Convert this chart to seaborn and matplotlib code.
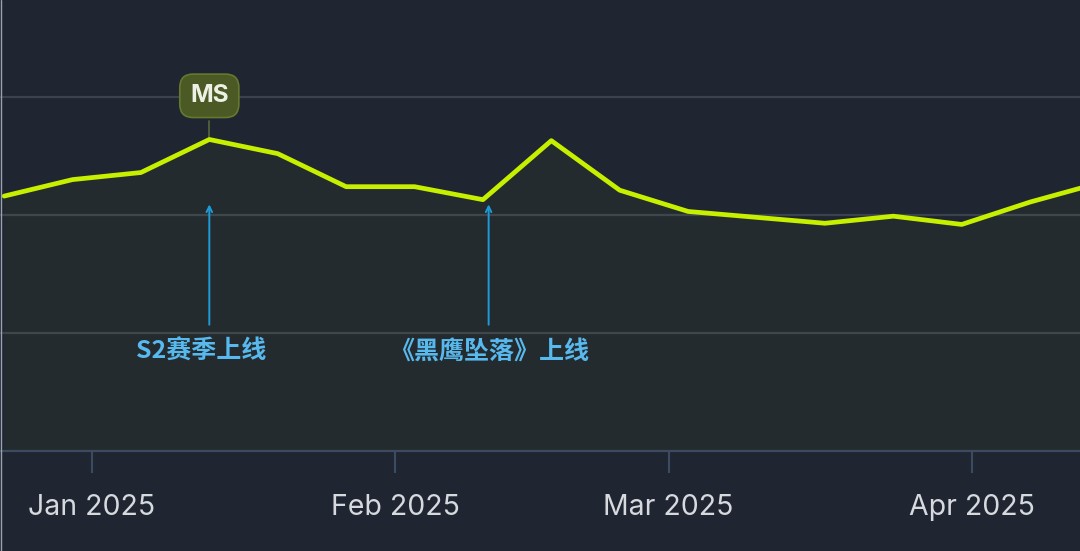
import matplotlib
matplotlib.use("Agg")
import matplotlib.pyplot as plt
import matplotlib.dates as mdates
from matplotlib.lines import Line2D
import seaborn as sns
import pandas as pd
import numpy as np

# weekly series (arbitrary units)
weeks = ["2024-12-23", "2024-12-30", "2025-01-06", "2025-01-13", "2025-01-20",
         "2025-01-27", "2025-02-03", "2025-02-10", "2025-02-17", "2025-02-24",
         "2025-03-03", "2025-03-10", "2025-03-17", "2025-03-24", "2025-03-31",
         "2025-04-07", "2025-04-14"]
values = [216, 230, 236, 264, 252, 224, 224, 213, 263, 221,
          203, 198, 193, 199, 192, 211, 227]

# events
event_dates = ["2025-01-13", "2025-02-10 14:00"]
event_labels = ["S2赛季上线", "《黑鹰坠落》上线"]
badge_date = "2025-01-13"
badge_text = "MS"

tick_dates = ["2025-01-01", "2025-02-01", "2025-03-01", "2025-04-01"]
tick_labels = ["Jan 2025", "Feb 2025", "Mar 2025", "Apr 2025"]

df = pd.DataFrame({"week": pd.to_datetime(weeks), "value": values})

BG = "#1f2531"
LINE = "#c6f000"
GRID = "#3a424e"
BLUE_TXT = "#58b9ee"
BLUE_ARR = "#1b9bd8"

sns.set_theme(style="dark")
plt.rcParams["font.family"] = ["Inter", "Noto Sans CJK SC", "DejaVu Sans"]

fig = plt.figure(figsize=(10.8, 5.51), dpi=100, facecolor=BG)
ax = fig.add_axes([0, 1 - 451 / 551, 1, 451 / 551])
ax.set_facecolor(BG)

sns.lineplot(data=df, x="week", y="value", color=LINE, linewidth=3.4, ax=ax, zorder=4)
ax.fill_between(df["week"], df["value"], 0, color=LINE, alpha=0.03, zorder=2, linewidth=0)

jan1 = mdates.date2num(pd.Timestamp("2025-01-01"))
ax.set_xlim(jan1 - 9.42, jan1 + 101.1)
ax.set_ylim(0, 451 / 1.18)

ax.set_yticks([100, 200, 300])
ax.yaxis.grid(True, color=GRID, linewidth=1.6)
ax.xaxis.grid(False)
ax.tick_params(axis="y", left=False, labelleft=False)

ax.set_xticks(pd.to_datetime(tick_dates))
ax.set_xticklabels(tick_labels)
ax.tick_params(axis="x", bottom=True, length=16, width=1.5, color="#3b4b60",
               labelsize=20.5, labelcolor="#d6d9de", pad=15)
ax.set_xlabel("")
ax.set_ylabel("")
for s in ["top", "right", "left"]:
    ax.spines[s].set_visible(False)
ax.spines["bottom"].set_color("#3b4b60")
ax.spines["bottom"].set_linewidth(1.6)

# MS badge
bx = pd.Timestamp(badge_date)
by = df.loc[df["week"] == bx, "value"].iloc[0]
ax.plot([bx, bx], [by, 280], color="#55623a", linewidth=1.3, zorder=3)
ax.text(bx, 301, badge_text, ha="center", va="center", fontsize=17.5, fontweight="bold",
        color="#eef0e6", zorder=6,
        bbox=dict(boxstyle="round,pad=0.42,rounding_size=0.55", facecolor="#4b5a24",
                  edgecolor="#66782e", linewidth=1.2))

# event arrows
label_shift = [-6, 0]
for d, lab, sh in zip(event_dates, event_labels, label_shift):
    ex = pd.Timestamp(d)
    ax.annotate("", xy=(ex, 209), xytext=(ex, 107),
                arrowprops=dict(arrowstyle="->", color=BLUE_ARR, lw=1.4,
                                mutation_scale=10, shrinkA=0, shrinkB=0), zorder=5)
    ax.annotate(lab, xy=(ex, 84), xytext=(sh, 0), textcoords="offset points",
                ha="center", va="center", fontsize=18, fontweight="bold",
                color=BLUE_TXT, family=["Noto Sans CJK SC", "DejaVu Sans"], zorder=5)

fig.add_artist(Line2D([0.0006, 0.0006], [0, 1], transform=fig.transFigure,
                      color="#9aa3ad", linewidth=1.0))

fig.savefig("out.png", dpi=100, facecolor=BG)
